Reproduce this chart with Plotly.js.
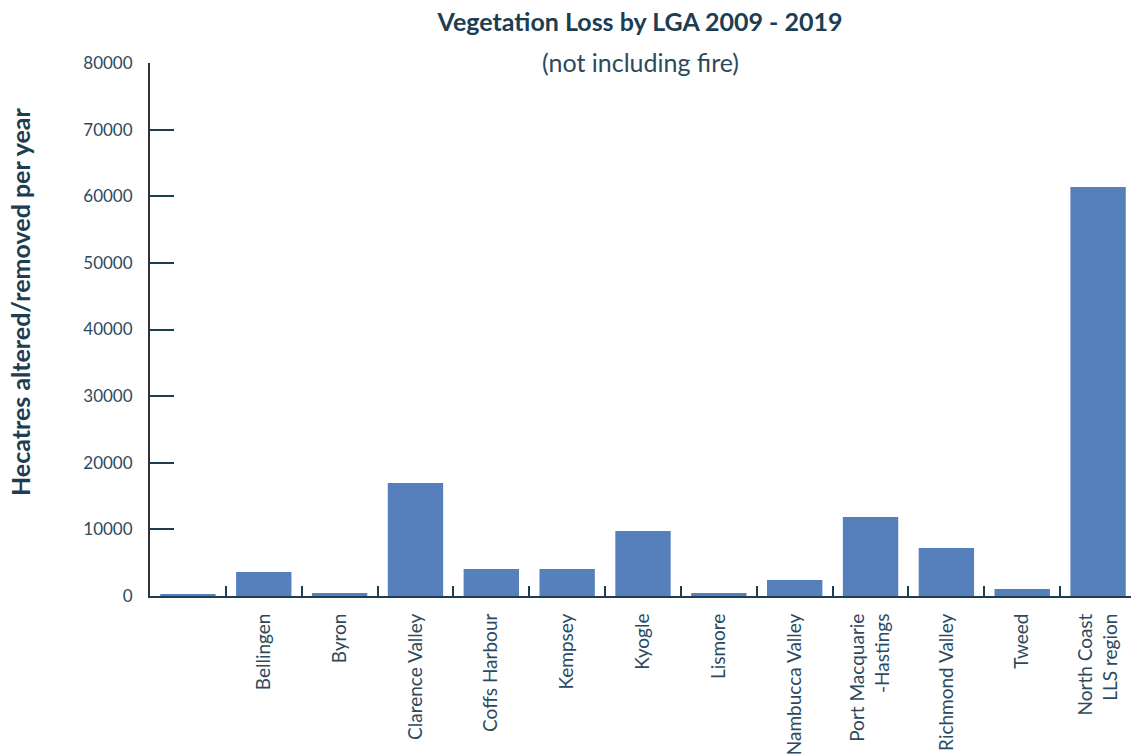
<!DOCTYPE html>
<html>
<head>
<meta charset="utf-8">
<script src="https://cdn.plot.ly/plotly-3.0.1.min.js"></script>
<style>
  html, body { margin: 0; padding: 0; overflow: hidden; background: #fff; }
  #chart { width: 1136px; height: 754px; }
</style>
</head>
<body>
<div id="chart"></div>
<script>
// LGA names (first one has no label in the source)
var lgaNames = [" ", "Bellingen", "Byron", "Clarence Valley", "Coffs Harbour", "Kempsey",
  "Kyogle", "Lismore", "Nambucca Valley", "Port Macquarie<br>-Hastings",
  "Richmond Valley", "Tweed", "North Coast<br>LLS region"];

// hectares altered/removed per year
var hectares = [280, 3600, 450, 16950, 4050, 4050, 9750, 450, 2400, 11850, 7200, 1050, 61400];

var yTicks = [0, 10000, 20000, 30000, 40000, 50000, 60000, 70000, 80000];

var navy = "#1d3d52";
var fontFam = "Lato, 'Open Sans', sans-serif";

var trace = {
  type: "bar",
  x: lgaNames,
  y: hectares,
  marker: { color: "#5580bb" },
  hoverinfo: "x+y"
};

var layout = {
  width: 1136,
  height: 754,
  margin: { l: 150, r: 0, t: 63, b: 158 },
  paper_bgcolor: "#fff",
  plot_bgcolor: "#fff",
  font: { family: fontFam, color: "#2c4a5e", size: 16 },
  bargap: 0.27,
  showlegend: false,
  title: {
    text: "<b>Vegetation Loss by LGA 2009 - 2019</b>",
    font: { size: 25, color: navy, family: fontFam },
    x: 0.497, xref: "paper",
    y: 0.971, yref: "container", yanchor: "middle"
  },
  annotations: [{
    text: "(not including fire)",
    xref: "paper", yref: "paper",
    x: 0.497, y: 1.0, yanchor: "middle", yshift: 1,
    showarrow: false,
    font: { size: 25, color: "#2c4a5e", family: fontFam }
  }, {
    text: "<b>Hecatres altered/removed per year</b>",
    textangle: -90,
    xref: "paper", yref: "paper",
    x: -0.1318, y: 0.5516, xanchor: "center", yanchor: "middle",
    showarrow: false,
    font: { size: 25, color: navy, family: fontFam }
  }],
  xaxis: {
    type: "category",
    tickangle: -90,
    ticks: "inside",
    tickson: "boundaries",
    ticklen: 10,
    tickwidth: 2,
    tickcolor: navy,
    ticklabelstandoff: 8,
    showline: true,
    linecolor: navy,
    linewidth: 2,
    showgrid: false,
    tickfont: { size: 19, color: "#2c4a5e" },
    fixedrange: true
  },
  yaxis: {
    range: [0, 80000],
    tickvals: yTicks,
    ticktext: yTicks.map(String),
    ticks: "inside",
    ticklen: 24,
    tickwidth: 2,
    tickcolor: navy,
    ticklabelstandoff: 12,
    showline: true,
    linecolor: "#333",
    linewidth: 2,
    showgrid: false,
    zeroline: false,
    tickfont: { size: 17, color: "#2c4a5e" },
    fixedrange: true
  }
};

Plotly.newPlot("chart", [trace], layout, { displayModeBar: false, responsive: false });
</script>
</body>
</html>
